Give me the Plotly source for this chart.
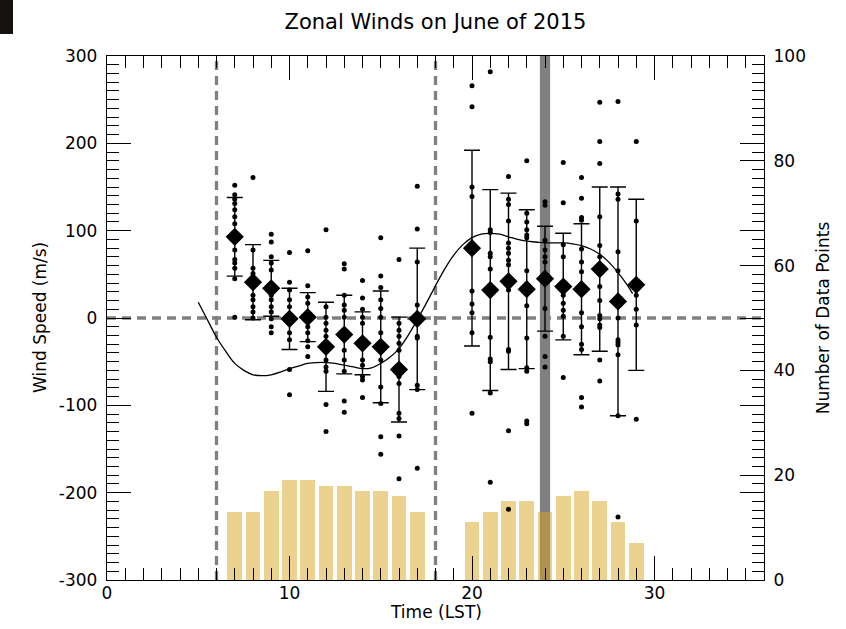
import plotly.graph_objects as go

# ---------------- data ----------------
hours = [7, 8, 9, 10, 11, 12, 13, 14, 15, 16, 17,
         20, 21, 22, 23, 24, 25, 26, 27, 28, 29]
mean_wind = [93, 41, 34, -1, 1, -33, -19, -29, -33, -59, -1,
             80, 32, 42, 33, 45, 36, 33, 56, 19, 38]
std_wind = [45, 43, 32, 35, 28, 51, 45, 36, 64, 60, 81,
            112, 115, 101, 91, 60, 61, 75, 94, 131, 98]
n_points = [13, 13, 17, 19, 19, 18, 18, 17, 17, 16, 13,
            11, 13, 15, 15, 13, 16, 17, 15, 11, 7]

point_values = [
    [152, 141, 136, 131, 124, 116, 108, 93, 78, 67, 63, 57, 45, 1],
    [161, 78, 57, 51, 44, 38, 26, 21, 13, 7, 0],
    [96, 87, 70, 63, 55, 26, 21, 13, 7, -1, -10, -17],
    [75, 41, 32, 21, 13, -1, -17, -25, -59, -88],
    [77, 37, 24, 17, -10, -17, -26, -33, -44],
    [101, 13, 1, -6, -14, -21, -33, -48, -56, -61, -99, -130],
    [62, 56, 26, 15, 9, 1, -20, -37, -48, -61, -95, -108],
    [43, 23, 10, 1, -6, -29, -48, -54, -67, -71, -91],
    [92, 48, 35, 21, 11, 1, -17, -33, -48, -79, -98, -136, -156],
    [67, -6, -14, -21, -29, -37, -59, -67, -75, -109, -115, -135, -184],
    [151, 102, 64, 15, -21, -23, -77, -82, -172],
    [266, 242, 150, 139, 80, 31, 16, 6, -17, -109],
    [282, 101, 98, 74, 70, 56, 32, -22, -47, -50, -86, -188],
    [162, 136, 130, 111, 86, 80, 74, 66, 61, 42, 32, -36, -38, -129, -219],
    [180, 120, 110, 101, 95, 92, 54, 33, 14, -23, -57, -61, -118, -121],
    [133, 129, 89, 78, 70, 64, 45, 11, -21, -44, -56],
    [178, 132, 84, 70, 36, 26, 17, 9, 2, -21, -68],
    [161, 137, 115, 112, 79, 64, 53, 33, 6, -10, -30, -36, -91, -102],
    [247, 202, 177, 116, 83, 70, 55, 36, 20, 3, -1, -8, -11, -48, -72],
    [248, 142, 136, 76, 54, 19, 0, -25, -28, -31, -42, -112, -228],
    [202, 111, 37, 26, 10, -8, -116],
]

fit_x = [5.0, 5.5, 6.0, 6.5, 7.0, 7.5, 8.0, 8.5, 9.0, 9.5, 10.0, 10.5, 11.0,
         11.5, 12.0, 12.5, 13.0, 13.5, 14.0, 14.5, 15.0, 15.5, 16.0, 16.5,
         17.0, 17.5, 18.0, 18.5, 19.0, 19.5, 20.0, 20.5, 21.0, 21.5, 22.0,
         22.5, 23.0, 23.5, 24.0, 24.5, 25.0, 25.5, 26.0, 26.5, 27.0, 27.5,
         28.0, 28.5, 28.8]
fit_y = [18, -2, -22, -38, -52, -60, -65, -66, -65, -62, -58, -55, -52,
         -51, -51, -52, -54, -56, -58, -57, -52, -45, -35, -20,
         -2, 17, 37, 56, 72, 84, 92, 96, 97, 96, 93,
         90, 88, 87, 86, 86, 86, 85, 83, 79, 73, 64,
         52, 38, 28]

vlines_x = [6, 18]
highlight_hour = 24

wind_tick_vals = [-300, -200, -100, 0, 100, 200, 300]
wind_tick_text = ["-300", "-200", "-100", "0", "100", "200", "300"]

title_text = "Zonal Winds on June of 2015"
x_title = "Time (LST)"
y_title = "Wind Speed (m/s)"
y2_title = "Number of Data Points"

# ---------------- figure ----------------
FONT = "DejaVu Sans"
dot_x = [h for h, vals in zip(hours, point_values) for _ in vals]
dot_y = [v for vals in point_values for v in vals]

fig = go.Figure()

# counts bars (primary y, right side)
fig.add_trace(go.Bar(
    x=hours, y=n_points, width=0.8, yaxis="y",
    marker=dict(color="rgba(218,165,32,0.5)", line=dict(width=0)),
    showlegend=False, hoverinfo="skip"))

# fitted curve
fig.add_trace(go.Scatter(
    x=fit_x, y=fit_y, yaxis="y2", mode="lines",
    line=dict(color="black", width=1.3, shape="spline"),
    showlegend=False))

# individual points
fig.add_trace(go.Scatter(
    x=dot_x, y=dot_y, yaxis="y2", mode="markers",
    marker=dict(color="black", size=5, symbol="circle"),
    showlegend=False))

# means with error bars
fig.add_trace(go.Scatter(
    x=hours, y=mean_wind, yaxis="y2", mode="markers",
    marker=dict(color="black", size=14, symbol="diamond"),
    error_y=dict(type="data", array=std_wind, symmetric=True,
                 color="black", thickness=1.4, width=8),
    showlegend=False))

# empty trace that carries the minor-tick axes
fig.add_trace(go.Scatter(x=[None], y=[None], xaxis="x3", yaxis="y3",
                         mode="markers", showlegend=False, hoverinfo="skip"))

shapes = []
for vx in vlines_x:
    shapes.append(dict(type="line", xref="x", yref="paper", x0=vx, x1=vx,
                       y0=0, y1=1, layer="below",
                       line=dict(color="#808080", width=3.3, dash="9px,6px")))
shapes.append(dict(type="line", xref="paper", yref="y2", x0=0, x1=1,
                   y0=0, y1=0, layer="below",
                   line=dict(color="#808080", width=3.3, dash="9px,6px")))
shapes.append(dict(type="rect", xref="x", yref="paper",
                   x0=highlight_hour - 0.28, x1=highlight_hour + 0.28,
                   y0=0, y1=1, layer="below",
                   fillcolor="#808080", line=dict(width=0)))
# dark block in the top-left corner of the picture
shapes.append(dict(type="rect", xref="paper", yref="paper",
                   x0=-107 / 657, x1=(13 - 107) / 657,
                   y0=(580 - 34) / 524, y1=580 / 524,
                   fillcolor="#16120f", line=dict(width=0)))

axis_common = dict(showgrid=False, zeroline=False, showline=True,
                   linecolor="black", linewidth=1.3,
                   tickcolor="black", tickwidth=1.3, automargin=False,
                   tickfont=dict(family=FONT, size=17, color="black"))

minor_common = dict(showgrid=False, zeroline=False, showline=False,
                    showticklabels=False, ticks="inside", ticklen=12,
                    tickcolor="black", tickwidth=1.3, automargin=False,
                    mirror="ticks")

annotations = [
    dict(text=x_title, xref="paper", yref="paper", x=0.5,
         y=(580 - 612) / 524, xanchor="center", yanchor="middle",
         showarrow=False, font=dict(family=FONT, size=17, color="black")),
    dict(text=y_title, xref="paper", yref="paper", x=(40 - 107) / 657,
         y=0.5, xanchor="center", yanchor="middle", textangle=-90,
         showarrow=False, font=dict(family=FONT, size=17, color="black")),
]

fig.update_layout(
    width=846, height=629,
    margin=dict(l=107, r=82, t=56, b=49),
    paper_bgcolor="white", plot_bgcolor="white",
    font=dict(family=FONT, size=17, color="black"),
    title=dict(text=title_text, x=0.5, xref="paper", y=1 - 22 / 629,
               yref="container", xanchor="center", yanchor="middle",
               font=dict(family=FONT, size=21, color="black")),
    bargap=0,
    shapes=shapes,
    annotations=annotations,
    xaxis=dict(range=[0, 36], tick0=0, dtick=10, ticks="inside", ticklen=24,
               mirror="ticks", ticklabelstandoff=-3, **axis_common),
    yaxis=dict(range=[0, 100], tick0=0, dtick=20, side="right",
               ticks="inside", ticklen=24, ticklabelstandoff=5,
               title=dict(text=y2_title, standoff=12,
                          font=dict(family=FONT, size=17)),
               **axis_common),
    yaxis2=dict(range=[-300, 300], tickvals=wind_tick_vals,
                ticktext=wind_tick_text, side="left",
                overlaying="y", anchor="x",
                ticks="inside", ticklen=24, mirror="ticks",
                ticklabelstandoff=5, **axis_common),
    xaxis3=dict(range=[0, 36], tick0=0, dtick=1, overlaying="x",
                anchor="y3", side="bottom", **minor_common),
    yaxis3=dict(range=[-300, 300], tick0=0, dtick=10, overlaying="y",
                anchor="x3", side="left", **minor_common),
)

fig.write_html("out.html",
               config={"displayModeBar": False},
               post_script="document.body.style.margin='0';")
